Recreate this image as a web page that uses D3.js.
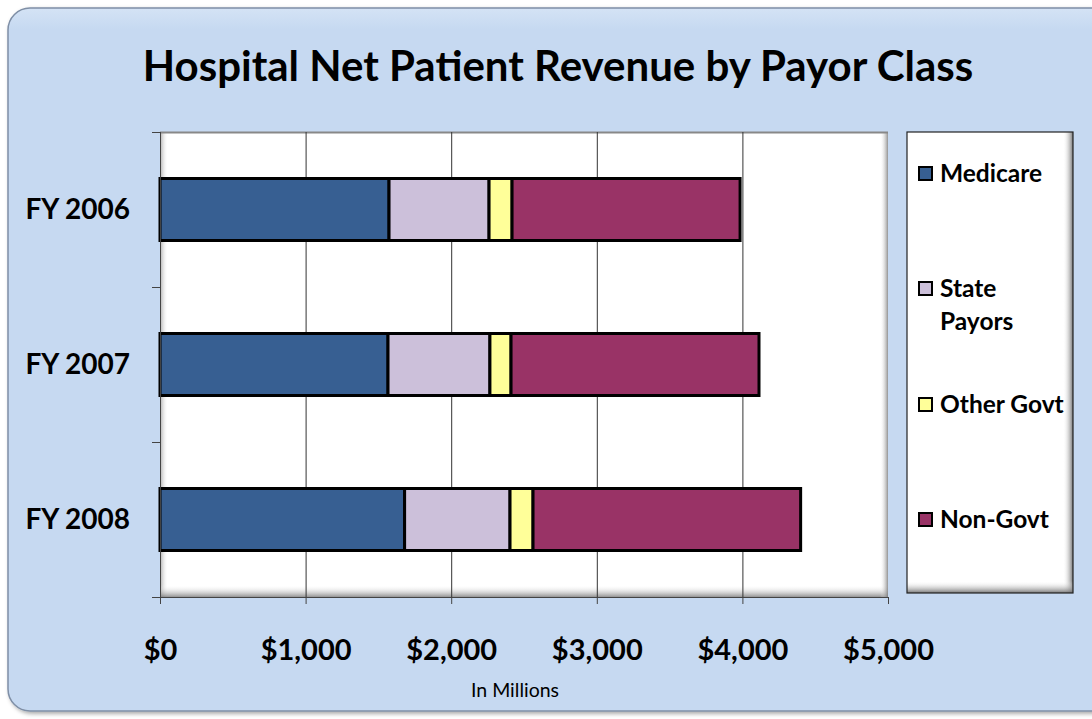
<!DOCTYPE html>
<html><head><meta charset="utf-8">
<script src="https://cdn.jsdelivr.net/npm/d3@7"></script>
<style>body{margin:0;background:#fff}svg{display:block}</style>
</head><body>
<svg id="c" width="1092" height="719"></svg>
<script>
const categories = ["FY 2006", "FY 2007", "FY 2008"];
const seriesNames = ["Medicare", "State Payors", "Other Govt", "Non-Govt"];
const medicare   = [1573, 1566, 1680];
const statePay   = [687, 700, 724];
const otherGovt  = [158, 145, 158];
const nonGovt    = [1566, 1703, 1838];
const tickValues = [0, 1000, 2000, 3000, 4000, 5000];
const colors = ["#375f92", "#ccc0da", "#ffff99", "#993366"];

const svg = d3.select("#c");
const font = "Lato, 'Open Sans', sans-serif";
const defs = svg.append("defs");

// outer frame
const gOuter = defs.append("linearGradient").attr("id","og").attr("x1",0).attr("y1",0).attr("x2",0).attr("y2",1);
gOuter.append("stop").attr("offset","0").attr("stop-color","#d4e3f5");
gOuter.append("stop").attr("offset","0.03").attr("stop-color","#c6d9f1");
gOuter.append("stop").attr("offset","1").attr("stop-color","#c6d9f1");
const flt = defs.append("filter").attr("id","sh").attr("x","-5%").attr("y","-5%").attr("width","110%").attr("height","110%");
flt.append("feDropShadow").attr("dx",2).attr("dy",2).attr("stdDeviation",2).attr("flood-color","#000").attr("flood-opacity",0.35);
svg.append("rect").attr("x",8).attr("y",8).attr("width",1110).attr("height",703).attr("rx",22)
  .attr("fill","url(#og)").attr("stroke","#7f8fa6").attr("stroke-width",1.5).attr("filter","url(#sh)");

// title
svg.append("text").attr("x",558).attr("y",81).attr("text-anchor","middle")
  .attr("font-family",font).attr("font-weight","bold").attr("font-size",42).attr("fill","#000")
  .text("Hospital Net Patient Revenue by Payor Class");

// plot geometry
const pL=160, pR=888, pT=132, pB=597;
const x = d3.scaleLinear().domain([0,5000]).range([pL,pR]);
const y = d3.scaleBand().domain(categories).range([pT,pB]).paddingInner(0.6).paddingOuter(0.3);

// plot area background with inner shadow
const pShL = defs.append("linearGradient").attr("id","pl").attr("x1",0).attr("x2",1).attr("y1",0).attr("y2",0);
pShL.append("stop").attr("offset","0").attr("stop-color","#888").attr("stop-opacity",0.7);
pShL.append("stop").attr("offset","1").attr("stop-color","#fff").attr("stop-opacity",0);
const pShB = defs.append("linearGradient").attr("id","pb").attr("x1",0).attr("x2",0).attr("y1",1).attr("y2",0);
pShB.append("stop").attr("offset","0").attr("stop-color","#777").attr("stop-opacity",0.8);
pShB.append("stop").attr("offset","1").attr("stop-color","#fff").attr("stop-opacity",0);
const pShR = defs.append("linearGradient").attr("id","pr").attr("x1",1).attr("x2",0).attr("y1",0).attr("y2",0);
pShR.append("stop").attr("offset","0").attr("stop-color","#777").attr("stop-opacity",0.8);
pShR.append("stop").attr("offset","1").attr("stop-color","#fff").attr("stop-opacity",0);

svg.append("rect").attr("x",pL).attr("y",pT).attr("width",pR-pL).attr("height",pB-pT).attr("fill","#fff");
svg.append("rect").attr("x",pL).attr("y",pT).attr("width",8).attr("height",pB-pT).attr("fill","url(#pl)");
svg.append("rect").attr("x",pL).attr("y",pB-12).attr("width",pR-pL).attr("height",12).attr("fill","url(#pb)");
svg.append("rect").attr("x",pR-8).attr("y",pT).attr("width",8).attr("height",pB-pT).attr("fill","url(#pr)");
svg.append("line").attr("x1",pL).attr("x2",pR).attr("y1",pT+0.5).attr("y2",pT+0.5).attr("stroke","#888").attr("stroke-width",2);

// gridlines
svg.append("g").selectAll("line").data(tickValues.slice(1,-1)).join("line")
  .attr("x1",d=>x(d)+0.5).attr("x2",d=>x(d)+0.5).attr("y1",pT).attr("y2",pB)
  .attr("stroke","#333").attr("stroke-width",1);

// stacked bars
const rows = categories.map((c,i)=>({cat:c, "Medicare":medicare[i], "State Payors":statePay[i], "Other Govt":otherGovt[i], "Non-Govt":nonGovt[i]}));
const stack = d3.stack().keys(seriesNames)(rows);
svg.append("g").selectAll("g").data(stack).join("g").attr("fill",(d,i)=>colors[i])
  .selectAll("rect").data(d=>d).join("rect")
  .attr("x",d=>x(d[0])).attr("width",d=>x(d[1])-x(d[0]))
  .attr("y",d=>y(d.data.cat)).attr("height",y.bandwidth())
  .attr("stroke","#000").attr("stroke-width",3);

// axes
const xAxis = svg.append("g").attr("transform",`translate(0,${pB})`)
  .call(d3.axisBottom(x).tickValues(tickValues).tickSize(7).tickFormat(d=>"$"+d3.format(",")(d)));
xAxis.select(".domain").attr("stroke","#444");
xAxis.selectAll(".tick line").attr("stroke","#444");
xAxis.selectAll("text").attr("font-family",font).attr("font-weight","bold").attr("font-size",29)
  .attr("fill","#000").attr("dy",0).attr("y",63);

const yTicks = [pT, pT+(pB-pT)/3, pT+2*(pB-pT)/3, pB];
svg.append("line").attr("x1",pL+0.5).attr("x2",pL+0.5).attr("y1",pT).attr("y2",pB).attr("stroke","#444");
svg.append("g").selectAll("line").data(yTicks).join("line")
  .attr("x1",pL-8).attr("x2",pL).attr("y1",d=>d+0.5).attr("y2",d=>d+0.5).attr("stroke","#444");
svg.append("g").selectAll("text").data(categories).join("text")
  .attr("x",130).attr("y",d=>y(d)+y.bandwidth()/2).attr("dy","0.35em").attr("text-anchor","end")
  .attr("font-family",font).attr("font-weight","bold").attr("font-size",28).text(d=>d);

svg.append("text").attr("x",515).attr("y",697).attr("text-anchor","middle")
  .attr("font-family",font).attr("font-size",19.5).text("In Millions");

// legend
const lgR = defs.append("linearGradient").attr("id","lgr").attr("x1",0).attr("x2",1).attr("y1",0).attr("y2",0);
lgR.append("stop").attr("offset","0").attr("stop-color","#fff").attr("stop-opacity",0);
lgR.append("stop").attr("offset","1").attr("stop-color","#666").attr("stop-opacity",0.9);
const lgB = defs.append("linearGradient").attr("id","lgb").attr("x1",0).attr("x2",0).attr("y1",0).attr("y2",1);
lgB.append("stop").attr("offset","0").attr("stop-color","#fff").attr("stop-opacity",0);
lgB.append("stop").attr("offset","1").attr("stop-color","#666").attr("stop-opacity",0.9);
const lx=907, ly=132, lw=166, lh=461;
svg.append("rect").attr("x",lx).attr("y",ly).attr("width",lw).attr("height",lh).attr("fill","#fff");
svg.append("rect").attr("x",lx+lw-10).attr("y",ly).attr("width",10).attr("height",lh).attr("fill","url(#lgr)");
svg.append("rect").attr("x",lx).attr("y",ly+lh-12).attr("width",lw).attr("height",12).attr("fill","url(#lgb)");
svg.append("rect").attr("x",lx).attr("y",ly).attr("width",lw).attr("height",lh).attr("fill","none").attr("stroke","#222").attr("stroke-width",1.2);

const legendLines = [["Medicare"],["State","Payors"],["Other Govt"],["Non-Govt"]];
const legendY = [173, 288, 404, 519];
const lg = svg.append("g").selectAll("g").data(seriesNames).join("g")
  .attr("transform",(d,i)=>`translate(919,${legendY[i]})`);
lg.append("rect").attr("x",0).attr("y",-6).attr("width",13).attr("height",13)
  .attr("fill",(d,i)=>colors[i]).attr("stroke","#000").attr("stroke-width",2);
lg.append("text").attr("font-family",font).attr("font-weight","bold").attr("font-size",24.5)
  .selectAll("tspan").data((d,i)=>legendLines[i]).join("tspan")
  .attr("x",21).attr("y",(d,j)=>j*33).attr("dy","0.35em").text(d=>d);
</script>
</body></html>
